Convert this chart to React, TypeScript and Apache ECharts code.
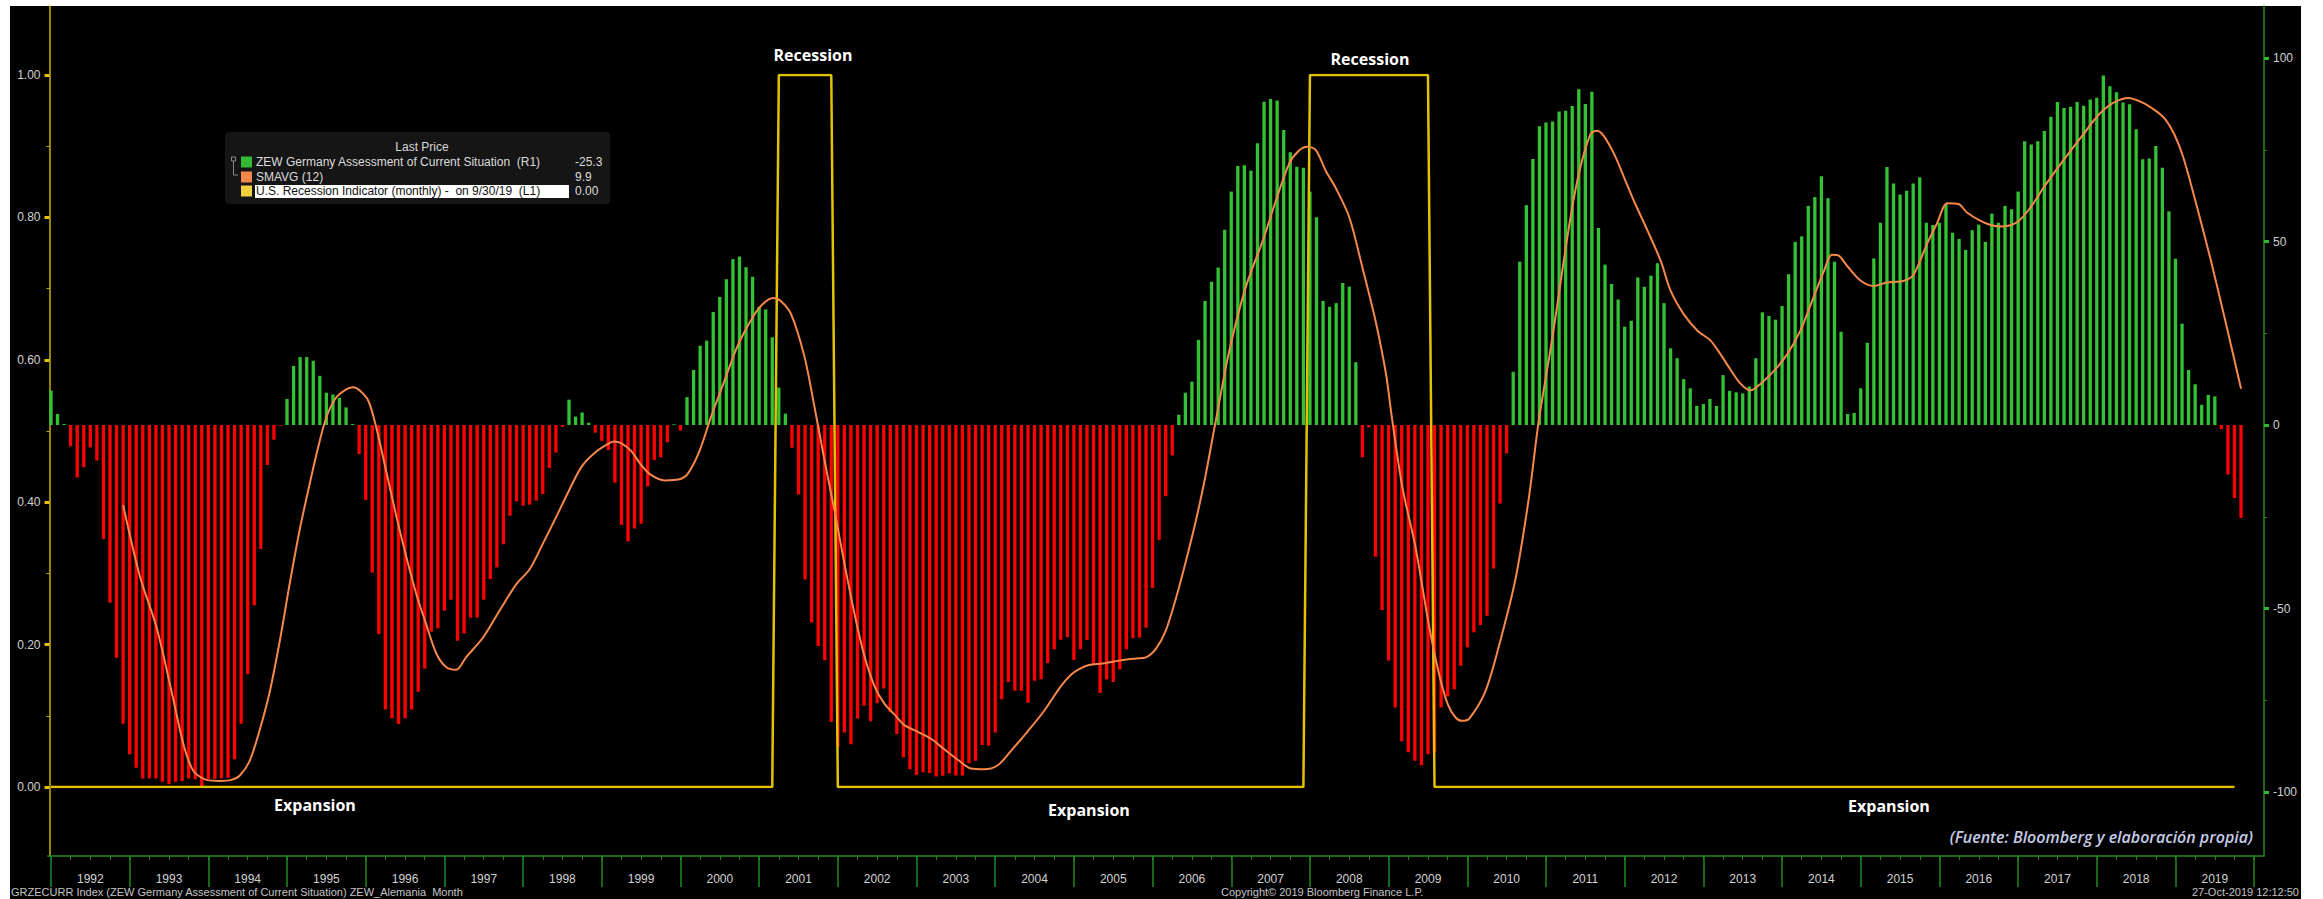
import React, { useEffect, useRef } from "react";
import * as echarts from "echarts";

// Monthly categories: index 0 = 1991-12 (plotted at month end) ... 2020-01
const firstYear = 1991;
const firstMonth = 12;
const categoryCount = 338;
const months: string[] = [];
for (let i = 0; i < categoryCount; i++) {
  const m0 = firstMonth - 1 + i;
  const y = firstYear + Math.floor(m0 / 12);
  const m = (m0 % 12) + 1;
  months.push(`${y}-${m < 10 ? "0" + m : m}`);
}

// ZEW Germany Assessment of Current Situation, Dec 1991 .. Oct 2019
const zew1991_1995: number[] = [
  9.4, 3.0, 0.3, -5.8, -14.3, -11.5, -6.1, -9.7, -31.1, -48.4, -63.4, -81.4,
  -89.7, -93.4, -96.3, -96.3, -96.3, -97.2, -97.9, -97.2, -97.0, -96.3, -96.5, -98.4,
  -96.5, -96.5, -96.3, -96.1, -91.1, -81.4, -67.9, -49.1, -33.8, -10.9, -4.0, -0.2,
  7.1, 16.1, 18.5, 18.5, 17.5, 13.4, 8.8, 8.3, 7.4, 4.8, 0.3, -7.9,
];
const zew1996_2000: number[] = [
  -20.4, -40.2, -57.0, -77.5, -79.9, -81.5, -79.9, -77.5, -72.7, -66.4, -56.3, -55.4,
  -50.6, -47.6, -58.8, -56.8, -52.5, -52.5, -47.6, -42.0, -38.8, -32.5, -24.7, -20.8,
  -22.0, -21.7, -20.6, -18.8, -11.7, -7.5, -0.5, 6.9, 2.3, 3.4, 0.6, -2.1,
  -4.3, -6.8, -15.7, -27.2, -31.7, -28.2, -26.9, -16.7, -9.5, -8.8, -4.7, 0.2,
  -1.5, 7.6, 15.0, 21.6, 23.0, 30.8, 34.9, 39.7, 45.2, 45.9, 43.0, 40.4,
];
const zew2001_2005: number[] = [
  32.2, 31.5, 23.9, 10.2, 3.1, -6.2, -18.9, -42.1, -53.8, -60.2, -64.1, -80.9,
  -87.7, -83.8, -87.0, -80.0, -76.5, -80.7, -75.8, -71.8, -78.3, -84.2, -90.5, -93.8,
  -95.4, -94.6, -94.8, -95.8, -95.6, -94.9, -95.5, -95.5, -92.2, -91.5, -87.2, -87.4,
  -83.8, -74.7, -70.0, -72.4, -72.4, -75.7, -69.7, -69.3, -64.9, -61.1, -58.5, -57.8,
  -64.0, -61.1, -58.6, -65.1, -73.0, -69.3, -70.0, -66.6, -61.1, -58.1, -57.9, -55.2,
];
const zew2006_2010: number[] = [
  -44.4, -31.3, -19.4, -8.3, 2.8, 8.8, 11.8, 23.2, 33.8, 39.0, 42.9, 53.2,
  63.6, 70.6, 70.8, 69.3, 76.8, 88.1, 88.8, 88.4, 80.4, 74.3, 70.4, 70.1,
  63.6, 56.6, 33.8, 32.2, 33.2, 38.7, 37.7, 17.1, -8.8, -0.7, -35.9, -50.4,
  -64.2, -77.0, -86.2, -89.2, -91.5, -92.7, -89.7, -89.2, -77.0, -74.0, -72.0, -65.6,
  -60.6, -56.5, -54.5, -52.0, -39.1, -21.4, -7.7, 14.5, 44.5, 59.9, 72.5, 81.4,
];
const zew2011_2015: number[] = [
  82.4, 82.7, 85.4, 85.6, 86.9, 91.5, 87.5, 90.8, 53.7, 43.7, 38.4, 34.2,
  26.8, 28.4, 40.2, 37.7, 40.7, 44.1, 33.2, 20.9, 18.2, 12.5, 10.0, 5.2,
  5.7, 7.1, 5.2, 13.6, 9.3, 8.9, 8.6, 10.5, 18.2, 30.7, 29.7, 28.7,
  32.4, 41.1, 49.9, 51.4, 59.7, 62.1, 67.8, 61.8, 44.5, 25.4, 3.0, 3.3,
  10.0, 22.4, 45.4, 55.1, 70.3, 65.8, 62.8, 63.8, 65.8, 67.5, 55.1, 54.5,
];
const zew2016_2019: number[] = [
  55.1, 60.2, 52.4, 50.7, 47.7, 53.1, 54.6, 49.9, 57.6, 55.1, 59.7, 58.8,
  63.6, 77.3, 76.4, 77.3, 80.1, 84.0, 88.0, 86.4, 86.7, 88.0, 87.0, 88.7,
  89.2, 95.2, 92.3, 90.7, 87.9, 87.4, 80.6, 72.4, 72.6, 76.0, 70.1, 58.2,
  45.3, 27.6, 15.0, 11.1, 5.5, 8.2, 7.8, -1.1, -13.5, -19.9, -25.3,
];
const zewValues: number[] = [
  ...zew1991_1995, ...zew1996_2000, ...zew2001_2005,
  ...zew2006_2010, ...zew2011_2015, ...zew2016_2019,
];

// SMAVG (12): [month index (0 = Dec 1991), value]
const smaPoints: number[][] = [
  [11.0, -21.8], [13.6, -41.5], [16.1, -55.1], [18.6, -74.3], [20.2, -87.0], [21.7, -94.2],
  [23.7, -96.7], [25.8, -97.0], [27.5, -96.7], [28.8, -95.5], [30.3, -91.5], [31.8, -83.3],
  [33.4, -72.4], [34.9, -58.8], [36.4, -43.3], [37.9, -28.8], [39.0, -19.7], [40.5, -7.9],
  [42.0, 2.1], [43.5, 7.5], [45.1, 9.8], [46.1, 10.3], [47.1, 9.4], [48.4, 6.6], [49.6, -0.6],
  [51.1, -12.4], [52.7, -25.1], [54.2, -36.0], [55.7, -46.0], [57.2, -54.2], [58.8, -62.4],
  [60.3, -66.0], [61.8, -66.7], [63.3, -63.3], [65.9, -57.9], [68.4, -50.6], [71.0, -43.3],
  [73.0, -39.3], [75.0, -32.4], [77.2, -24.5], [78.8, -18.6], [80.9, -11.4], [82.9, -7.6],
  [84.9, -5.2], [85.9, -4.5], [87.0, -5.0], [88.5, -7.1], [90.0, -10.9], [91.5, -13.6],
  [93.6, -15.1], [95.8, -14.8], [97.1, -13.3], [98.9, -7.1], [100.7, 2.4], [102.7, 12.0],
  [104.7, 21.5], [106.8, 28.7], [108.3, 32.5], [110.1, 34.6], [111.3, 33.8], [112.9, 30.1],
  [114.9, 18.7], [116.4, 5.3], [117.9, -9.0], [119.5, -23.4], [121.0, -37.7], [122.5, -51.1],
  [124.0, -62.6], [125.6, -71.2], [127.1, -75.9], [128.6, -78.8], [130.1, -81.7], [132.2, -83.6],
  [134.2, -85.5], [136.2, -88.3], [138.3, -91.2], [140.3, -93.6], [142.3, -93.8], [144.4, -92.7],
  [146.4, -88.8], [148.9, -83.6], [151.5, -77.8], [154.0, -71.2], [155.6, -68.0], [156.8, -66.5],
  [158.3, -65.4], [160.4, -65.0], [162.9, -64.2], [165.5, -63.6], [167.0, -63.3], [168.5, -61.0],
  [170.0, -56.1], [171.6, -47.0], [173.1, -37.0], [174.6, -26.1], [176.0, -14.5], [177.6, 0.8],
  [179.7, 20.2], [182.2, 37.5], [184.8, 50.2], [186.8, 61.1], [188.8, 71.1], [190.3, 74.7],
  [191.6, 75.8], [192.9, 74.9], [194.4, 69.3], [195.9, 64.7], [198.0, 56.6], [200.0, 42.9],
  [202.0, 28.4], [203.6, 13.9], [204.5, 2.0], [206.1, -17.0], [208.1, -33.3], [210.2, -55.1],
  [211.7, -67.9], [213.0, -76.0], [214.2, -79.7], [215.2, -80.6], [216.3, -80.0], [218.8, -72.4],
  [221.3, -57.0], [223.4, -41.5], [225.4, -19.7], [226.9, 1.2], [228.9, 23.0], [231.5, 53.9],
  [233.0, 68.4], [234.8, 79.3], [235.8, 80.2], [236.8, 78.8], [238.4, 73.8], [239.9, 67.5],
  [241.4, 61.1], [243.5, 52.9], [245.5, 44.7], [247.0, 36.6], [249.0, 30.2], [251.1, 25.7],
  [253.1, 23.0], [254.6, 19.3], [256.1, 15.2], [257.7, 11.2], [259.2, 9.4], [260.7, 11.2],
  [262.8, 14.8], [264.8, 19.3], [266.8, 25.7], [268.8, 34.8], [270.4, 42.0], [271.6, 46.4],
  [272.7, 46.1], [273.9, 43.4], [276.0, 39.3], [278.0, 37.9], [280.0, 38.8], [282.6, 39.3],
  [284.1, 41.1], [286.1, 49.3], [287.6, 54.8], [289.2, 60.4], [290.9, 60.2], [292.2, 57.9],
  [294.2, 55.7], [295.8, 54.5], [297.3, 54.1], [299.8, 55.2], [301.9, 59.3], [303.9, 64.7],
  [305.9, 69.7], [308.0, 74.7], [310.0, 79.3], [311.5, 82.9], [312.9, 85.6], [314.5, 87.8],
  [316.8, 89.1], [318.9, 87.9], [321.0, 85.6], [322.4, 83.4], [323.8, 79.3], [325.2, 72.9],
  [327.3, 59.3], [329.4, 44.8], [331.6, 28.4], [334.0, 9.9],
];

// US recession indicator (monthly), 1 inside NBER recessions, last obs 2019-09
const recessionPeriods: string[][] = [
  ["2001-03", "2001-11"],
  ["2007-12", "2009-06"],
];
const recessionLast = "2019-09";

const leftTicks = [0, 0.2, 0.4, 0.6, 0.8, 1.0];
const rightTicks = [-100, -50, 0, 50, 100];

const legendRows = [
  { label: "ZEW Germany Assessment of Current Situation  (R1)", value: "-25.3", color: "#33bb33" },
  { label: "SMAVG (12)", value: "9.9", color: "#f4874b" },
  { label: "U.S. Recession Indicator (monthly) -  on 9/30/19  (L1)", value: "0.00", color: "#f0d040" },
];

const GREEN = "#33c233";
const RED = "#ff0000";
const ORANGE = "#f7884a";
const GOLD = "#e3c200";
const AXIS_GREEN = "#1f8a1f";
const AXIS_YELLOW = "#c8b000";
const LABEL = "#d2d2d2";
const FONT = "Liberation Sans";

export default function App() {
  const ref = useRef<HTMLDivElement>(null);

  useEffect(() => {
    if (!ref.current) return;
    const chart = echarts.init(ref.current, undefined, { renderer: "svg" });

    const lastIdx = months.indexOf(recessionLast);
    const recession: number[] = [];
    for (let i = 0; i <= lastIdx; i++) {
      const m = months[i];
      const inRec = recessionPeriods.some(([a, b]) => m >= a && m <= b);
      recession.push(inRec ? 1 : 0);
    }

    const gridLeft = 47.7;
    const gridRight = 59;

    const legendX = 225;
    const legendY = 132;
    const rowYs = [162, 177, 191];

    const graphic: any[] = [
      {
        type: "rect",
        shape: { x: legendX, y: legendY, width: 385, height: 72, r: 4 },
        style: { fill: "#151515" },
        z: 10,
      },
      {
        type: "text",
        x: 422,
        y: 147,
        style: {
          text: "Last Price",
          fill: "#d8d8d8",
          font: `12px "${FONT}"`,
          textAlign: "center",
          textVerticalAlign: "middle",
        },
        z: 11,
      },
      {
        type: "rect",
        shape: { x: 231.5, y: 157, width: 4, height: 4 },
        style: { fill: "none", stroke: "#8a8a8a", lineWidth: 1 },
        z: 11,
      },
      {
        type: "polyline",
        shape: { points: [[233.5, 161], [233.5, 175], [238, 175]] },
        style: { stroke: "#8a8a8a", lineWidth: 1, fill: "none" },
        z: 11,
      },
      {
        type: "rect",
        shape: { x: 255, y: 185, width: 314, height: 13 },
        style: { fill: "#ffffff" },
        z: 11,
      },
    ];
    legendRows.forEach((r, i) => {
      graphic.push({
        type: "rect",
        shape: { x: 241, y: rowYs[i] - 5.5, width: 11, height: 11 },
        style: { fill: r.color },
        z: 12,
      });
      graphic.push({
        type: "text",
        x: 256,
        y: rowYs[i],
        style: {
          text: r.label,
          fill: i === 2 ? "#111111" : "#dcdcdc",
          font: `12px "${FONT}"`,
          textVerticalAlign: "middle",
        },
        z: 12,
      });
      graphic.push({
        type: "text",
        x: 575,
        y: rowYs[i],
        style: {
          text: r.value,
          fill: "#dcdcdc",
          font: `12px "${FONT}"`,
          textVerticalAlign: "middle",
        },
        z: 12,
      });
    });

    const annotations = [
      { text: "Recession", x: 813, y: 55 },
      { text: "Recession", x: 1370, y: 59 },
      { text: "Expansion", x: 315, y: 805 },
      { text: "Expansion", x: 1089, y: 810 },
      { text: "Expansion", x: 1889, y: 806 },
    ];
    annotations.forEach((a) => {
      graphic.push({
        type: "text",
        x: a.x,
        y: a.y,
        style: {
          text: a.text,
          fill: "#ffffff",
          font: `bold 16px "Open Sans"`,
          textAlign: "center",
          textVerticalAlign: "middle",
        },
        z: 12,
      });
    });
    graphic.push({
      type: "text",
      x: 2253,
      y: 837,
      style: {
        text: "(Fuente: Bloomberg y elaboración propia)",
        fill: "#c6cce6",
        font: `italic 600 16px "Open Sans"`,
        textAlign: "right",
        textVerticalAlign: "middle",
      },
      z: 12,
    });
    const footers = [
      { text: "GRZECURR Index (ZEW Germany Assessment of Current Situation) ZEW_Alemania  Month", x: 11, align: "left" },
      { text: "Copyright\u00a9 2019 Bloomberg Finance L.P.", x: 1221, align: "left" },
      { text: "27-Oct-2019 12:12:50", x: 2299, align: "right" },
    ];
    footers.forEach((f) => {
      graphic.push({
        type: "text",
        x: f.x,
        y: 897,
        style: {
          text: f.text,
          fill: "#c4c4c4",
          font: `11px "${FONT}"`,
          textAlign: f.align,
          textVerticalAlign: "bottom",
        },
        z: 12,
      });
    });

    const option: any = {
      animation: false,
      backgroundColor: "transparent",
      grid: [
        { left: gridLeft, right: gridRight, top: 6, height: 850 },
        { left: gridLeft, right: gridRight, top: 75, height: 712 },
        { left: gridLeft, right: gridRight, top: 58, height: 734 },
      ],
      xAxis: [
        {
          gridIndex: 0,
          type: "category",
          data: months,
          position: "bottom",
          boundaryGap: true,
          axisLine: { show: true, onZero: false, lineStyle: { color: AXIS_GREEN, width: 1.5 } },
          axisTick: {
            show: true,
            alignWithLabel: true,
            interval: (i: number) => i % 12 === 0,
            length: 31,
            lineStyle: { color: AXIS_GREEN, width: 1.5 },
          },
          axisLabel: {
            show: true,
            interval: (i: number) => i % 12 === 6,
            formatter: (v: string) => v.slice(0, 4),
            color: LABEL,
            fontFamily: FONT,
            fontSize: 12,
            margin: 17,
          },
          splitLine: { show: false },
        },
        {
          gridIndex: 0,
          type: "category",
          data: months,
          position: "bottom",
          boundaryGap: true,
          axisLine: { show: false, onZero: false },
          axisTick: {
            show: true,
            alignWithLabel: true,
            interval: (i: number) => i % 3 === 0,
            length: 4,
            lineStyle: { color: AXIS_GREEN, width: 1 },
          },
          axisLabel: { show: false },
          splitLine: { show: false },
        },
        { gridIndex: 2, type: "category", data: months, boundaryGap: true, show: false, axisLine: { onZero: false } },
        {
          gridIndex: 2,
          type: "value",
          min: -0.5,
          max: categoryCount - 0.5,
          show: false,
          axisLine: { onZero: false },
          splitLine: { show: false },
        },
        { gridIndex: 1, type: "category", data: months, boundaryGap: true, show: false, axisLine: { onZero: false } },
      ],
      yAxis: [
        {
          gridIndex: 0,
          type: "value",
          position: "left",
          offset: -1.8,
          min: 0,
          max: 1,
          axisLine: { show: true, onZero: false, lineStyle: { color: AXIS_YELLOW, width: 1.5 } },
          axisTick: { show: false },
          minorTick: { show: false },
          axisLabel: { show: false },
          splitLine: { show: false },
        },
        {
          gridIndex: 0,
          type: "value",
          position: "right",
          min: 0,
          max: 1,
          axisLine: { show: true, onZero: false, lineStyle: { color: AXIS_GREEN, width: 1.5 } },
          axisTick: { show: false },
          minorTick: { show: false },
          axisLabel: { show: false },
          splitLine: { show: false },
        },
        {
          gridIndex: 1,
          type: "value",
          position: "left",
          offset: -1.8,
          min: leftTicks[0],
          max: leftTicks[leftTicks.length - 1],
          interval: 0.2,
          axisLine: { show: false, onZero: false },
          axisTick: { show: true, length: 5, lineStyle: { color: GOLD, width: 3 } },
          minorTick: { show: true, splitNumber: 2, length: 3, lineStyle: { color: AXIS_YELLOW, width: 1 } },
          axisLabel: {
            formatter: (v: number) => v.toFixed(2),
            color: LABEL,
            fontFamily: FONT,
            fontSize: 12,
            margin: 9,
          },
          splitLine: { show: false },
        },
        {
          gridIndex: 2,
          type: "value",
          position: "right",
          min: rightTicks[0],
          max: rightTicks[rightTicks.length - 1],
          interval: 50,
          axisLine: { show: false, onZero: false },
          axisTick: { show: true, length: 5, lineStyle: { color: "#2fb82f", width: 3 } },
          minorTick: { show: true, splitNumber: 2, length: 3, lineStyle: { color: AXIS_GREEN, width: 1 } },
          axisLabel: {
            color: LABEL,
            fontFamily: FONT,
            fontSize: 12,
            margin: 9,
          },
          splitLine: { show: false },
        },
      ],
      series: [
        {
          name: "ZEW Germany Assessment of Current Situation",
          type: "bar",
          xAxisIndex: 2,
          yAxisIndex: 3,
          data: zewValues,
          barWidth: 3.3,
          itemStyle: {
            color: (p: any) => (p.value >= 0 ? GREEN : RED),
          },
          z: 2,
        },
        {
          name: "U.S. Recession Indicator",
          type: "line",
          xAxisIndex: 4,
          yAxisIndex: 2,
          data: recession,
          symbol: "none",
          lineStyle: { color: GOLD, width: 2.5 },
          z: 3,
        },
        {
          name: "SMAVG (12)",
          type: "line",
          xAxisIndex: 3,
          yAxisIndex: 3,
          data: smaPoints,
          symbol: "none",
          smooth: 0.3,
          lineStyle: { color: ORANGE, width: 2 },
          z: 4,
        },
      ],
      graphic,
    };

    chart.setOption(option);
    return () => chart.dispose();
  }, []);

  return (
    <div
      style={{
        position: "absolute",
        left: 0,
        top: 0,
        width: 2323,
        height: 899,
        background: "#ffffff",
        overflow: "hidden",
      }}
    >
      <div style={{ position: "absolute", left: 10, top: 6, width: 2291, height: 893, background: "#000000" }} />
      <div ref={ref} style={{ position: "absolute", left: 0, top: 0, width: 2323, height: 899 }} />
    </div>
  );
}
